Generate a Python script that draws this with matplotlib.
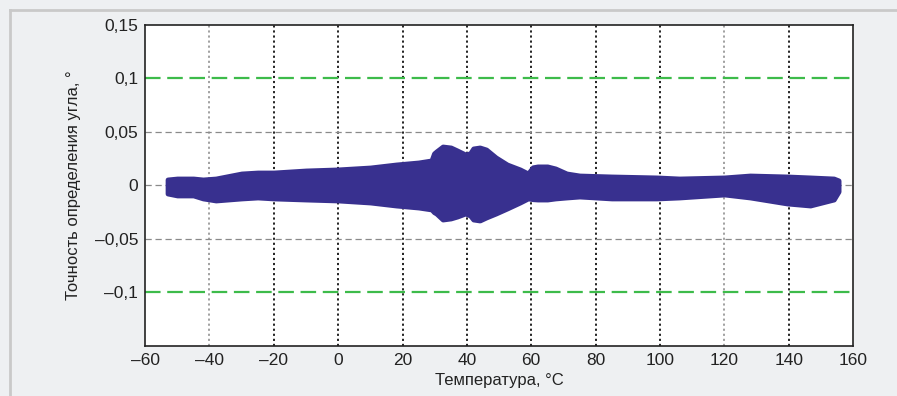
import matplotlib
matplotlib.use("Agg")
import matplotlib.pyplot as plt
from matplotlib.lines import Line2D

plt.rcParams['font.family'] = ['Liberation Sans Narrow', 'Liberation Sans', 'DejaVu Sans']

temp = [-53, -50, -45, -42, -38, -30, -25, -20, -10, 0, 10, 18, 25, 29, 29.8, 30.5,
        32.5, 35, 37, 39.5, 41, 42, 44, 46, 49, 52.5, 56.5, 59, 60.5, 62, 65, 67.5, 71,
        75, 85, 99, 106, 120, 128, 139.5, 146.7, 154, 155.5]
err_upper = [0.0056, 0.0065, 0.0065, 0.0056, 0.0065, 0.0112, 0.0121, 0.0121, 0.0140, 0.0150,
             0.0168, 0.0196, 0.0215, 0.0234, 0.0300, 0.0318, 0.0364, 0.0355, 0.0327, 0.0290,
             0.0300, 0.0346, 0.0355, 0.0336, 0.0262, 0.0196, 0.0150, 0.0112, 0.0170, 0.0178,
             0.0178, 0.0159, 0.0112, 0.0093, 0.0084, 0.0075, 0.0065, 0.0075, 0.0093, 0.0084,
             0.0075, 0.0065, 0.0047]
err_lower = [-0.0075, -0.0093, -0.0093, -0.0121, -0.0140, -0.0121, -0.0112, -0.0121, -0.0131, -0.0140,
             -0.0159, -0.0187, -0.0206, -0.0224, -0.0250, -0.0262, -0.0318, -0.0308, -0.0290, -0.0262,
             -0.0280, -0.0318, -0.0327, -0.0299, -0.0262, -0.0215, -0.0159, -0.0121, -0.0128, -0.0131,
             -0.0131, -0.0121, -0.0112, -0.0103, -0.0121, -0.0121, -0.0112, -0.0084, -0.0112, -0.0168,
             -0.0187, -0.0131, -0.0056]

limits = [0.1, -0.1]
x_ticks = list(range(-60, 161, 20))
x_labels = [str(t).replace('-', '\u2013') for t in x_ticks]
y_ticks = [-0.1, -0.05, 0, 0.05, 0.1, 0.15]
y_labels = ['\u20130,1', '\u20130,05', '0', '0,05', '0,1', '0,15']

fig = plt.figure(figsize=(8.97, 3.96), dpi=100, facecolor='#eef0f2')
ax = fig.add_axes([0.1617, 0.1263, 0.951 - 0.1617, 0.9369 - 0.1263])
ax.set_facecolor('white')

# frame around the figure panel
fig.add_artist(Line2D([10 / 897, 1], [1 - 10 / 396, 1 - 10 / 396], color='#c9c9c9', lw=2))
fig.add_artist(Line2D([10 / 897, 10 / 897], [0, 1 - 10 / 396], color='#c9c9c9', lw=2))

# grid
light = {-40, 120}
for t in x_ticks[1:-1]:
    ax.axvline(t, color='#9a9a9a' if t in light else '#111111', lw=1.3,
               ls=(0, (1.2, 1.6)), zorder=1)
for v in [-0.05, 0, 0.05]:
    ax.axhline(v, color='#8a8a8a', lw=0.9, ls=(0, (5, 3)), zorder=1)
for v in limits:
    ax.axhline(v, color='#3dbb4a', lw=1.6, ls=(0, (7, 3)), zorder=2)

ax.fill_between(temp, err_lower, err_upper, color='#38308f', lw=3.5,
                edgecolor='#38308f', joinstyle='round', capstyle='round', zorder=3)

ax.set_xlim(-60, 160)
ax.set_ylim(-0.15, 0.15)
ax.set_xticks(x_ticks)
ax.set_xticklabels(x_labels)
ax.set_yticks(y_ticks)
ax.set_yticklabels(y_labels)
ax.tick_params(length=0, labelsize=12.5, pad=5, colors='#222222')
for s in ax.spines.values():
    s.set_color('#222222')
    s.set_linewidth(1.2)

ax.set_xlabel('Температура, °С', fontsize=12, color='#222222', labelpad=4)
ax.set_ylabel('Точность определения угла, °', fontsize=12, color='#222222', labelpad=10)

fig.savefig('out.png', dpi=100, facecolor=fig.get_facecolor())
